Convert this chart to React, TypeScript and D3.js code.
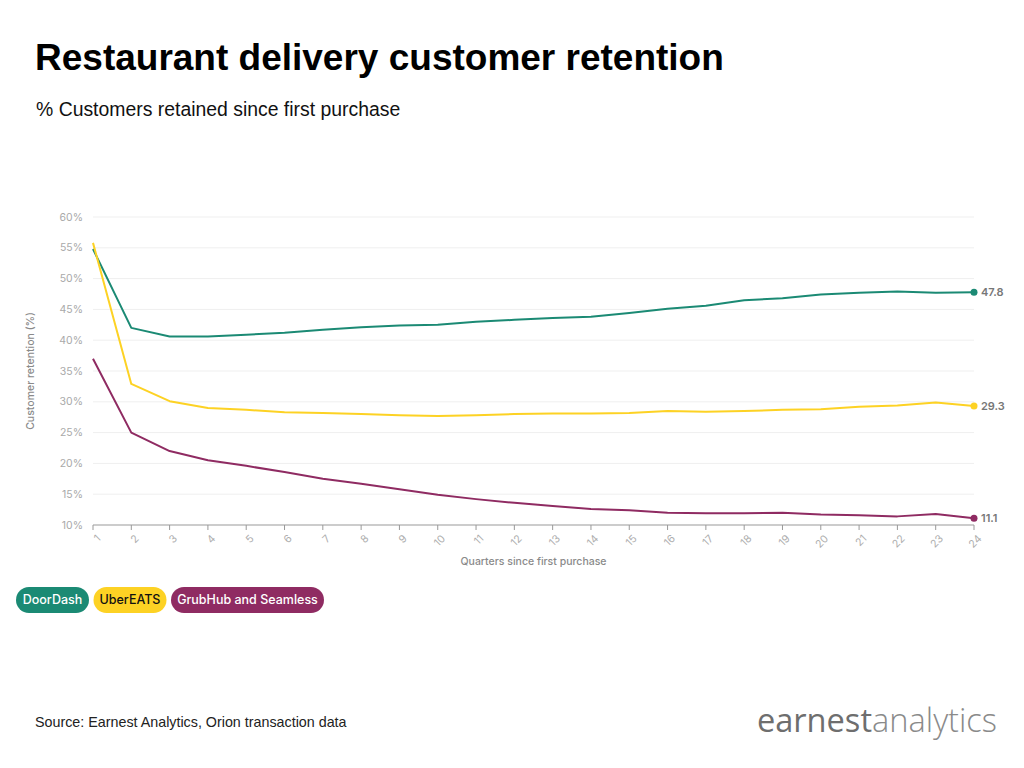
import React from "react";
import * as d3 from "d3";

const quarters = d3.range(1, 25);
const doorDash = [54.8, 42.0, 40.6, 40.6, 40.9, 41.2, 41.7, 42.1, 42.4, 42.5, 43.0, 43.3, 43.6, 43.8, 44.4, 45.1, 45.6, 46.5, 46.8, 47.4, 47.7, 47.9, 47.7, 47.8];
const uberEats = [55.8, 32.9, 30.1, 29.0, 28.7, 28.3, 28.2, 28.0, 27.8, 27.7, 27.8, 28.0, 28.1, 28.1, 28.2, 28.5, 28.4, 28.5, 28.7, 28.8, 29.2, 29.4, 29.9, 29.3];
const grubHub = [37.0, 25.0, 22.0, 20.5, 19.6, 18.6, 17.5, 16.7, 15.8, 14.9, 14.2, 13.6, 13.1, 12.6, 12.4, 12.0, 11.9, 11.9, 12.0, 11.7, 11.6, 11.4, 11.8, 11.1];
const yTicks = [10, 15, 20, 25, 30, 35, 40, 45, 50, 55, 60];

const seriesList = [
  { name: "DoorDash", values: doorDash, color: "#1b8a74", text: "#ffffff" },
  { name: "UberEATS", values: uberEats, color: "#fdd224", text: "#111111" },
  { name: "GrubHub and Seamless", values: grubHub, color: "#8f2b62", text: "#ffffff" },
];

const W = 1024;
const H = 768;
const left = 93;
const right = 974;
const top = 217;
const bottom = 525;

export default function App() {
  const x = d3.scaleLinear().domain([1, 24]).range([left, right]);
  const y = d3.scaleLinear().domain([10, 60]).range([bottom, top]);
  const line = d3
    .line<number>()
    .x((_, i) => x(quarters[i]))
    .y((d) => y(d));

  const chartFont = "Inter, 'Noto Sans', sans-serif";
  const legendWidths = [73, 73, 153];
  let lx = 16;
  const legendPos = legendWidths.map((w) => {
    const p = lx;
    lx += w + 4.5;
    return p;
  });

  return (
    <svg
      width={W}
      height={H}
      style={{ position: "absolute", left: 0, top: 0, background: "#fff" }}
    >
      <rect width={W} height={H} fill="#fff" />
      <text x={35} y={70} fontFamily="'Liberation Sans', Arial, sans-serif" fontWeight="bold" fontSize={37} fill="#000">
        Restaurant delivery customer retention
      </text>
      <text x={36} y={116} fontFamily="'Liberation Sans', Arial, sans-serif" fontSize={19.4} fill="#111">
        % Customers retained since first purchase
      </text>

      {yTicks.map((t) => (
        <g key={t}>
          {t > 10 && (
            <line x1={left} x2={right} y1={y(t)} y2={y(t)} stroke="#efefef" strokeWidth={1} />
          )}
          <text
            x={83}
            y={y(t)}
            dy="0.35em"
            textAnchor="end"
            fontFamily={chartFont}
            fontSize={10.5}
            fill="#a9a9a9"
          >
            {t}%
          </text>
        </g>
      ))}

      <line x1={left} x2={right} y1={bottom} y2={bottom} stroke="#999" strokeWidth={1} />
      {quarters.map((q) => (
        <g key={q}>
          <line x1={x(q)} x2={x(q)} y1={bottom} y2={bottom + 5} stroke="#999" strokeWidth={1} />
          <text
            transform={`translate(${x(q) + 3},${bottom + 9}) rotate(-45)`}
            textAnchor="end"
            dy="0.7em"
            fontFamily={chartFont}
            fontSize={10.5}
            fill="#adadad"
          >
            {q}
          </text>
        </g>
      ))}

      <text
        transform={`translate(34,${(top + bottom) / 2}) rotate(-90)`}
        textAnchor="middle"
        fontFamily={chartFont}
        fontSize={10.5}
        fontWeight={500}
        fill="#8a8a8a"
      >
        Customer retention (%)
      </text>
      <text
        x={(left + right) / 2}
        y={565}
        textAnchor="middle"
        fontFamily={chartFont}
        fontSize={10.5}
        fontWeight={500}
        fill="#8a8a8a"
      >
        Quarters since first purchase
      </text>

      {seriesList.map((s) => {
        const last = s.values[s.values.length - 1];
        return (
          <g key={s.name}>
            <path d={line(s.values) || ""} fill="none" stroke={s.color} strokeWidth={2} strokeLinejoin="round" />
            <circle cx={x(24)} cy={y(last)} r={3.5} fill={s.color} />
            <text
              x={x(24) + 7}
              y={y(last)}
              dy="0.35em"
              fontFamily={chartFont}
              fontSize={11}
              fontWeight={600}
              fill="#777"
            >
              {last.toFixed(1)}
            </text>
          </g>
        );
      })}

      {seriesList.map((s, i) => (
        <g key={s.name} transform={`translate(${legendPos[i]},587)`}>
          <rect width={legendWidths[i]} height={26} rx={13} fill={s.color} />
          <text
            x={legendWidths[i] / 2}
            y={13}
            dy="0.35em"
            textAnchor="middle"
            fontFamily={chartFont}
            fontSize={12.5}
            fontWeight={500}
            fill={s.text}
          >
            {s.name}
          </text>
        </g>
      ))}

      <text x={35} y={727} fontFamily="'Liberation Sans', Arial, sans-serif" fontSize={14.3} fill="#222">
        Source: Earnest Analytics, Orion transaction data
      </text>

      <text x={997} y={732} textAnchor="end" fontFamily="'Open Sans', Lato, sans-serif" fontSize={32.6} fill="#707070">
        <tspan fontWeight={500} fill="#6e6e6e">earnest</tspan>
        <tspan fontWeight={300} fill="#8a8a8a">analytics</tspan>
      </text>
    </svg>
  );
}
